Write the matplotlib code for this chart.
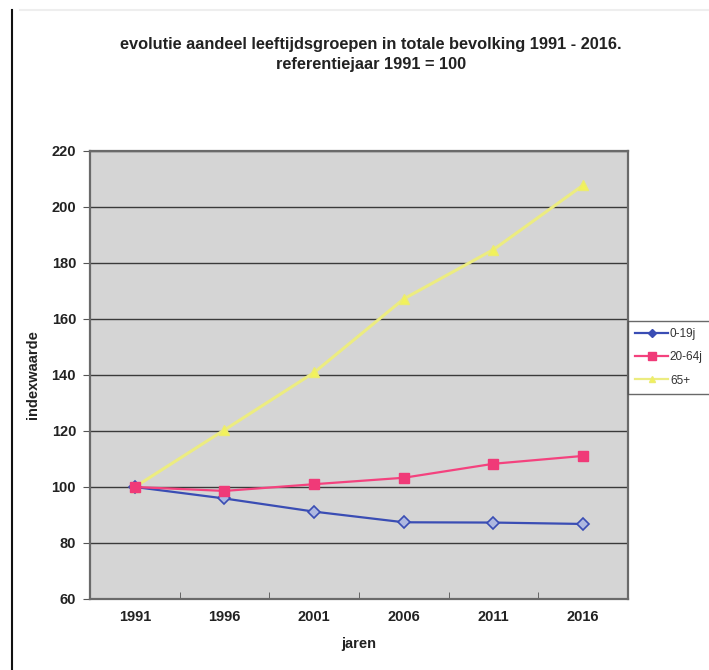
import matplotlib
matplotlib.use("Agg")
import matplotlib.pyplot as plt
from matplotlib.lines import Line2D

plt.rcParams['font.family'] = ['Liberation Sans', 'DejaVu Sans']

years = ["1991", "1996", "2001", "2006", "2011", "2016"]
series_names = ["0-19j", "20-64j", "65+"]
young = [100, 95.9, 91.2, 87.4, 87.3, 86.8]
working = [100, 98.6, 101.0, 103.3, 108.3, 111.1]
elderly = [100, 120.4, 140.9, 167.2, 184.8, 207.8]
y_ticks = [60, 80, 100, 120, 140, 160, 180, 200, 220]

fig = plt.figure(figsize=(7.09, 6.70), dpi=100)
fig.patch.set_facecolor("white")
W, H = 709, 670
left, right, top, bottom = 90, 628, 151, 599
ax = fig.add_axes([left / W, 1 - bottom / H, (right - left) / W, (bottom - top) / H])
ax.set_facecolor("#d5d5d5")

x = list(range(len(years)))
ax.plot(x, young, color="#3a4db4", lw=1.6, marker="D", ms=6,
        mfc="#aeb8e0", mec="#3a4db4", mew=1.2, label=series_names[0], zorder=4)
ax.plot(x, working, color="#f4427e", lw=1.6, marker="s", ms=7,
        mfc="#f03a78", mec="#f03a78", label=series_names[1], zorder=4)
ax.plot(x, elderly, color="#ecec80", lw=2.2, marker="^", ms=7,
        mfc="#f2f25a", mec="#ecec70", label=series_names[2], zorder=3)

ax.set_xlim(-0.5, len(years) - 0.5)
ax.set_ylim(60, 220)
ax.set_yticks(y_ticks)
ax.set_xticks(x)
ax.set_xticklabels(years)
ax.set_xticks([i - 0.5 for i in range(len(years) + 1)], minor=True)
ax.tick_params(axis="x", which="major", length=0, pad=8)
ax.tick_params(axis="x", which="minor", length=5, color="#555555", direction="in")
ax.tick_params(axis="y", length=5, color="#555555", direction="out", pad=5)
for lab in ax.get_xticklabels() + ax.get_yticklabels():
    lab.set_fontweight("bold")
    lab.set_fontsize(10.5)
    lab.set_color("#222222")

ax.grid(axis="y", color="#3a3a3a", lw=1.0)
ax.set_axisbelow(True)
for side, sp in ax.spines.items():
    sp.set_color("#6a6a6a")
    sp.set_linewidth(1.6)

ax.set_xlabel("jaren", fontsize=10.5, fontweight="bold", labelpad=9, color="#222222")
ax.set_ylabel("indexwaarde", fontsize=10.5, fontweight="bold", labelpad=8, color="#222222")

title_x = 371 / W
fig.text(title_x, 1 - 45 / H,
         "evolutie aandeel leeftijdsgroepen in totale bevolking 1991 - 2016.",
         ha="center", va="center", fontsize=11.8, fontweight="bold", color="#222222")
fig.text(title_x, 1 - 64 / H,
         "referentiejaar 1991 = 100",
         ha="center", va="center", fontsize=11.8, fontweight="bold", color="#222222")

handles = [
    Line2D([], [], color="#3a4db4", lw=1.6, marker="D", ms=4, mfc="#3a4db4", mec="#3a4db4"),
    Line2D([], [], color="#f4427e", lw=1.6, marker="s", ms=6, mfc="#f03a78", mec="#f03a78"),
    Line2D([], [], color="#ecec80", lw=1.6, marker="^", ms=5, mfc="#f2f25a", mec="#ecec70"),
]
leg = fig.legend(handles, series_names, loc="upper left",
                 bbox_to_anchor=(628 / W, 1 - 321 / H), frameon=True,
                 fancybox=False, edgecolor="#444444", fontsize=8.5,
                 handlelength=2.8, handletextpad=0.15, borderpad=0.6,
                 borderaxespad=0, labelspacing=0.95)
leg.get_frame().set_linewidth(1.0)
for t in leg.get_texts():
    t.set_color("#333333")

# page border on the left edge
fig.add_artist(Line2D([12 / W, 12 / W], [0, 1 - 10 / H], color="#111111", lw=1.5))
fig.add_artist(Line2D([20 / W, 1], [1 - 10 / H, 1 - 10 / H], color="#eeeeee", lw=1.5))

fig.savefig("out.png", dpi=100, facecolor="white")
